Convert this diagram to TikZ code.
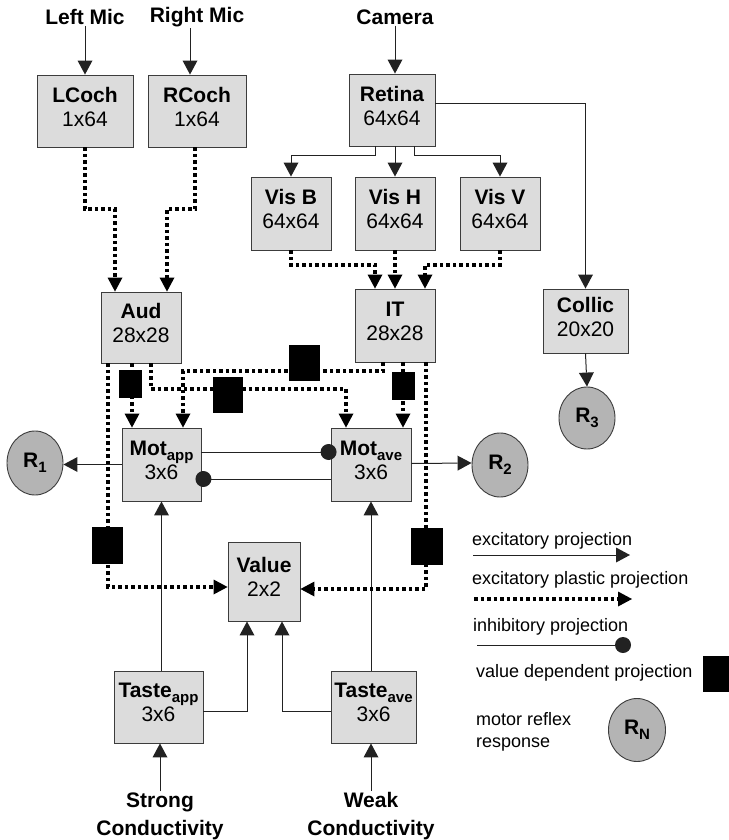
\documentclass[tikz,border=0pt]{standalone}
\usepackage{fontspec}
\setmainfont{Liberation Sans}
\usetikzlibrary{arrows.meta,calc,shapes.geometric}
\definecolor{boxfill}{HTML}{DCDCDC}
\definecolor{respfill}{HTML}{B4B4B4}
\definecolor{boxline}{HTML}{3C3C3C}
\definecolor{lineclr}{HTML}{222222}
\newcommand\mysub[1]{\raisebox{-0.45ex}{\fontsize{15}{15}\selectfont #1}}
\begin{document}
\begin{tikzpicture}[x=1pt,y=-1pt,
 box/.style={draw=boxline, fill=boxfill, line width=0.9pt, inner sep=0pt, align=center, text depth=9pt, font=\fontsize{21}{24}\selectfont},
 resp/.style={ellipse, draw=boxline, fill=respfill, line width=0.9pt, inner sep=0pt, font=\fontsize{21}{24}\selectfont\bfseries},
 lbl/.style={font=\fontsize{21}{28}\selectfont\bfseries, align=center, inner sep=1pt},
 leg/.style={font=\fontsize{18}{22}\selectfont, anchor=west, inner sep=0pt, align=left},
 exc/.style={draw=lineclr, line width=1pt, -{Triangle[length=14pt,width=15pt,line width=0pt]}},
 pla/.style={draw=black, line width=3.5pt, dash pattern=on 3.5pt off 3pt, -{Triangle[length=14pt,width=15pt,line width=0pt]}},
 inh/.style={draw=lineclr, line width=1pt, -{Circle[length=16pt,line width=0pt]}},
 vd/.style={fill=black, draw=none, inner sep=0pt},
]
\useasboundingbox (0,0) rectangle (728,840);

% ---------- input labels ----------
\node[lbl] (lmic) at (85,17) {Left Mic};
\node[lbl] (rmic) at (197,17) {Right Mic};
\node[lbl] (cam) at (395,17) {Camera};
\node[lbl] (strong) at (160,816) {Strong\\Conductivity};
\node[lbl] (weak) at (371,816) {Weak\\Conductivity};

% ---------- boxes ----------
\node[box, minimum width=96, minimum height=72] (LCoch) at (85,111) {\textbf{LCoch}\\1x64};
\node[box, minimum width=98, minimum height=72] (RCoch) at (197,111) {\textbf{RCoch}\\1x64};
\node[box, minimum width=86, minimum height=72] (Retina) at (392,110) {\textbf{Retina}\\64x64};
\node[box, minimum width=80, minimum height=73] (VisB) at (291,213.5) {\textbf{Vis B}\\64x64};
\node[box, minimum width=80, minimum height=73] (VisH) at (395,213.5) {\textbf{Vis H}\\64x64};
\node[box, minimum width=80, minimum height=73] (VisV) at (500,213.5) {\textbf{Vis V}\\64x64};
\node[box, minimum width=80, minimum height=71] (Aud) at (141,327.5) {\textbf{Aud}\\28x28};
\node[box, minimum width=80, minimum height=73] (IT) at (395,325.5) {\textbf{IT}\\28x28};
\node[box, minimum width=85, minimum height=64] (Collic) at (585.5,321) {\textbf{Collic}\\20x20};
\node[box, minimum width=79, minimum height=73] (MotA) at (161.5,464.5) {\textbf{Mot\mysub{app}}\\3x6};
\node[box, minimum width=80, minimum height=73] (MotV) at (371,464.5) {\textbf{Mot\mysub{ave}}\\3x6};
\node[box, minimum width=72, minimum height=79] (Value) at (264,581.5) {\textbf{Value}\\2x2};
\node[box, minimum width=89, minimum height=72] (TasteA) at (158.5,707) {\textbf{Taste\mysub{app}}\\3x6};
\node[box, minimum width=85, minimum height=72] (TasteV) at (373.5,707) {\textbf{Taste\mysub{ave}}\\3x6};

% ---------- responses ----------
\node[resp, minimum width=56, minimum height=64] (R1) at (35,463) {R\mysub{1}};
\node[resp, minimum width=56, minimum height=64] (R2) at (500,465) {R\mysub{2}};
\node[resp, minimum width=56, minimum height=62] (R3) at (587,418) {R\mysub{3}};

% ---------- excitatory projections ----------
\draw[exc] (lmic.south) -- (LCoch.north);
\draw[exc] ($(rmic.south)+(-7,0)$) -- ($(RCoch.north)+(-7,0)$);
\draw[exc] (cam.south) -- (cam.south |- Retina.north);
\draw[exc] ($(Retina.south)+(-17,0)$) -- (375,155) -| (VisB.north);
\draw[exc] (Retina.south -| VisH.north) -- (VisH.north);
\draw[exc] ($(Retina.south)+(22,0)$) -- (414,155) -| (VisV.north);
\draw[exc] ($(Retina.east)+(0,-6)$) -| (Collic.north);
\draw[exc] (Collic.south) -- (R3.north);
\draw[exc] (MotA.west) -- (MotA.west -| R1.east);
\draw[exc] ($(MotV.east)+(0,-1)$) -- ($(R2.west)+(0,-2)$);
\draw[exc] (MotA.south |- TasteA.north) -- (MotA.south);
\draw[exc] (MotV.south |- TasteV.north) -- (MotV.south);
\draw[exc] ($(TasteA.east)+(0,4)$) -| ($(Value.south)+(-17,0)$);
\draw[exc] ($(TasteV.west)+(0,4)$) -| ($(Value.south)+(18,0)$);
\draw[exc] (strong.north) -- (strong.north |- TasteA.south);
\draw[exc] (weak.north) -- (weak.north |- TasteV.south);

% ---------- inhibitory projections ----------
\draw[inh] ($(MotA.east)+(0,-12.5)$) -- ($(MotV.west)+(6,-12.5)$);
\draw[inh] ($(MotV.west)+(0,14.5)$) -- ($(MotA.east)+(-6,14.5)$);

% ---------- excitatory plastic projections ----------
\draw[pla] (LCoch.south) -- (85,209) -| ($(Aud.north)+(-26,0)$);
\draw[pla] ($(RCoch.south)+(-2,0)$) -- (195,209) -| ($(Aud.north)+(26,0)$);
\draw[pla] (VisB.south) -- (291,265) -| ($(IT.north)+(-20,0)$);
\draw[pla] (VisH.south) -- (IT.north);
\draw[pla] (VisV.south) -- (500,265) -| ($(IT.north)+(30,0)$);
\draw[pla] ($(Aud.south)+(-9,0)$) -- ($(MotA.north)+(-29.5,0)$);
\draw[pla] ($(Aud.south)+(10,0)$) -- (151,389) -| ($(MotV.north)+(-25,0)$);
\draw[pla] ($(IT.south)+(-12,0)$) -- (383,371) -| ($(MotA.north)+(21.5,0)$);
\draw[pla] ($(IT.south)+(8,0)$) -- ($(MotV.north)+(32,0)$);
\draw[pla] ($(Aud.south)+(-33,0)$) -- (108,587) -- ($(Value.west)+(0,5.5)$);
\draw[pla] ($(IT.south)+(31,0)$) -- (426,589) -- ($(Value.east)+(0,7.5)$);

% ---------- value dependent markers ----------
\node[vd, minimum width=23, minimum height=28] (vd1) at (130.5,384) {};
\node[vd, minimum width=30, minimum height=36] (vd2) at (228,395) {};
\node[vd, minimum width=31, minimum height=36] (vd3) at (304.5,363) {};
\node[vd, minimum width=23, minimum height=28] (vd4) at (403.5,386) {};
\node[vd, minimum width=31, minimum height=37] (vd5) at (107.5,545.5) {};
\node[vd, minimum width=32, minimum height=37] (vd6) at (427,546.5) {};

% ---------- legend ----------
\node[leg] (l1) at (472,541) {excitatory projection};
\coordinate (e1a) at (473,555); \coordinate (e1b) at (630,555);
\draw[exc] (e1a) -- (e1b);
\node[leg] (l2) at (472,580) {excitatory plastic projection};
\coordinate (e2a) at (474,599); \coordinate (e2b) at (632,599);
\draw[pla] (e2a) -- (e2b);
\node[leg] (l3) at (473,627) {inhibitory projection};
\coordinate (e3a) at (477,645); \coordinate (e3b) at (631,645);
\draw[inh] (e3a) -- (e3b);
\node[leg] (l4) at (476,673) {value dependent projection};
\node[vd, minimum width=28, minimum height=36] (legvd) at (717,674) {};
\node[leg] (l5) at (476,732) {motor reflex\\response};
\node[resp, minimum width=57, minimum height=63] (RN) at (637,730) {R\mysub{N}};
\end{tikzpicture}
\end{document}
